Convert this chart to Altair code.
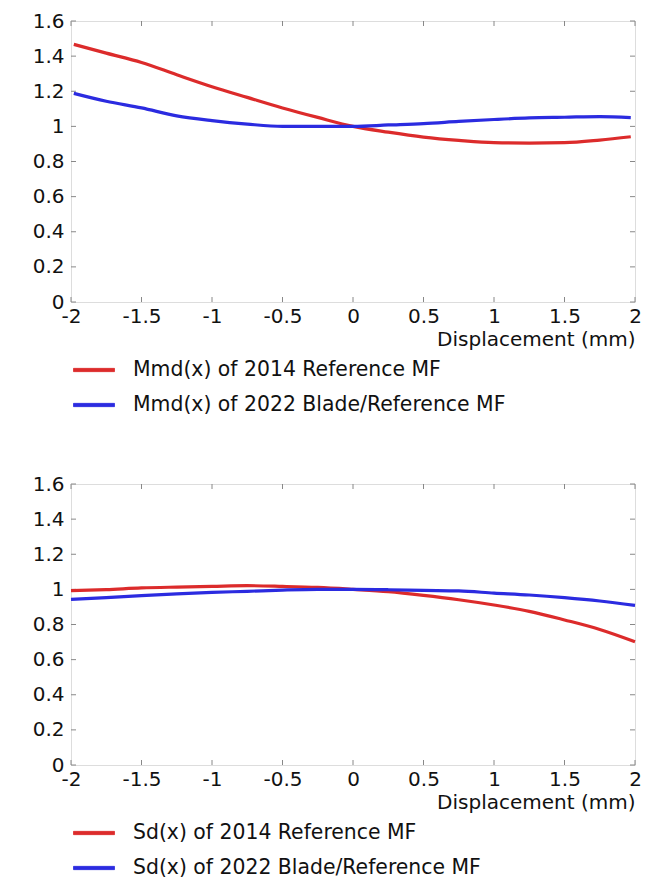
import altair as alt
import pandas as pd

# ---- data ----
x_top = [-1.98, -1.75, -1.5, -1.25, -1.0, -0.75, -0.5, -0.25, 0.0, 0.25, 0.5, 0.75, 1.0, 1.25, 1.5, 1.75, 1.97]
mmd_2014 = [1.467, 1.417, 1.364, 1.294, 1.226, 1.165, 1.105, 1.051, 1.0, 0.967, 0.939, 0.920, 0.907, 0.905, 0.907, 0.922, 0.941]
mmd_2022 = [1.188, 1.143, 1.105, 1.060, 1.033, 1.013, 1.0, 1.0, 1.0, 1.008, 1.016, 1.028, 1.039, 1.048, 1.052, 1.056, 1.050]

x_bot = [-2.0, -1.75, -1.5, -1.25, -1.0, -0.75, -0.5, -0.25, 0.0, 0.25, 0.5, 0.75, 1.0, 1.25, 1.5, 1.75, 2.0]
sd_2014 = [0.993, 0.999, 1.008, 1.013, 1.017, 1.021, 1.017, 1.011, 1.0, 0.987, 0.966, 0.941, 0.911, 0.875, 0.826, 0.772, 0.702]
sd_2022 = [0.943, 0.953, 0.964, 0.974, 0.983, 0.989, 0.996, 1.0, 1.0, 0.998, 0.994, 0.991, 0.979, 0.968, 0.953, 0.934, 0.909]

top_names = ["Mmd(x) of 2014 Reference MF", "Mmd(x) of 2022 Blade/Reference MF"]
bot_names = ["Sd(x) of 2014 Reference MF", "Sd(x) of 2022 Blade/Reference MF"]
colors = ["#dc2b2b", "#2b2be0"]

x_ticks = [-2, -1.5, -1, -0.5, 0, 0.5, 1, 1.5, 2]
y_ticks = [0, 0.2, 0.4, 0.6, 0.8, 1, 1.2, 1.4, 1.6]

W, H = 564, 281
FONT = "DejaVu Sans"
TICK_LEN = 5
TICK_COLOR = "#888888"

RECT_PATH = "M-1,-0.08L1,-0.08L1,0.08L-1,0.08Z"


def panel(xs, s1, s2, names, legend_y):
    df = pd.DataFrame({
        "x": list(xs) + list(xs),
        "y": list(s1) + list(s2),
        "series": [names[0]] * len(xs) + [names[1]] * len(xs),
    })
    xscale = alt.Scale(domain=[-2, 2], nice=False, zero=False)
    yscale = alt.Scale(domain=[0, 1.6], nice=False)
    legend = alt.Legend(
        title=None, orient="none", legendX=2, legendY=legend_y,
        direction="vertical", symbolType=RECT_PATH, symbolSize=1681,
        symbolStrokeColor="#333333", symbolStrokeWidth=0.8, symbolOpacity=1,
        labelFont=FONT, labelFontSize=20.4, labelColor="#111111", labelLimit=0,
        labelOffset=18, rowPadding=3, padding=0, symbolOffset=0,
    )
    color = alt.Color("series:N", scale=alt.Scale(domain=names, range=colors), legend=legend)

    xaxis = alt.Axis(values=x_ticks, labelExpr="'' + datum.value", ticks=False, domain=False,
                     grid=False, labelFont=FONT, labelFontSize=20, labelColor="#111111",
                     labelPadding=4, labelOverlap=False, title="Displacement (mm)", titleAnchor="end",
                     titleFont=FONT, titleFontSize=20, titleFontWeight="normal",
                     titleColor="#111111", titlePadding=3, labelFlush=False)
    yaxis = alt.Axis(values=y_ticks, labelExpr="'' + datum.value", ticks=False, domain=False,
                     grid=False, labelFont=FONT, labelFontSize=20, labelColor="#111111",
                     labelPadding=7, labelOverlap=False, title=None)

    X = alt.X("x:Q", scale=xscale, axis=xaxis)
    Y = alt.Y("y:Q", scale=yscale, axis=yaxis)

    base = alt.Chart(df)
    dummy = base.mark_point(filled=True, shape=RECT_PATH, opacity=0).encode(x=X, y=Y, color=color)
    lines = base.mark_line(strokeWidth=3.2, interpolate="monotone").encode(x=X, y=Y, color=color)

    xt = alt.Chart(pd.DataFrame({"x": x_ticks}))
    yt = alt.Chart(pd.DataFrame({"y": y_ticks}))
    tk = dict(color=TICK_COLOR, strokeWidth=1)
    top_t = xt.mark_rule(**tk).encode(x=X, y=alt.value(0), y2=alt.value(TICK_LEN))
    bot_t = xt.mark_rule(**tk).encode(x=X, y=alt.value(H), y2=alt.value(H - TICK_LEN))
    left_t = yt.mark_rule(**tk).encode(y=Y, x=alt.value(0), x2=alt.value(TICK_LEN))
    right_t = yt.mark_rule(**tk).encode(y=Y, x=alt.value(W), x2=alt.value(W - TICK_LEN))
    return alt.layer(dummy, top_t, bot_t, left_t, right_t, lines).properties(width=W, height=H)


top = panel(x_top, mmd_2014, mmd_2022, top_names, H + 47)
bot = panel(x_bot, sd_2014, sd_2022, bot_names, H + 47)

chart = alt.vconcat(top, bot, spacing=56).resolve_scale(color="independent").resolve_legend(
    color="independent"
).properties(
    padding={"left": 23, "top": 2, "right": 10, "bottom": 0}
).configure_view(stroke="#777777", strokeWidth=1).configure(background="white")

chart.save("out.html", embed_options={"renderer": "svg", "actions": False})
